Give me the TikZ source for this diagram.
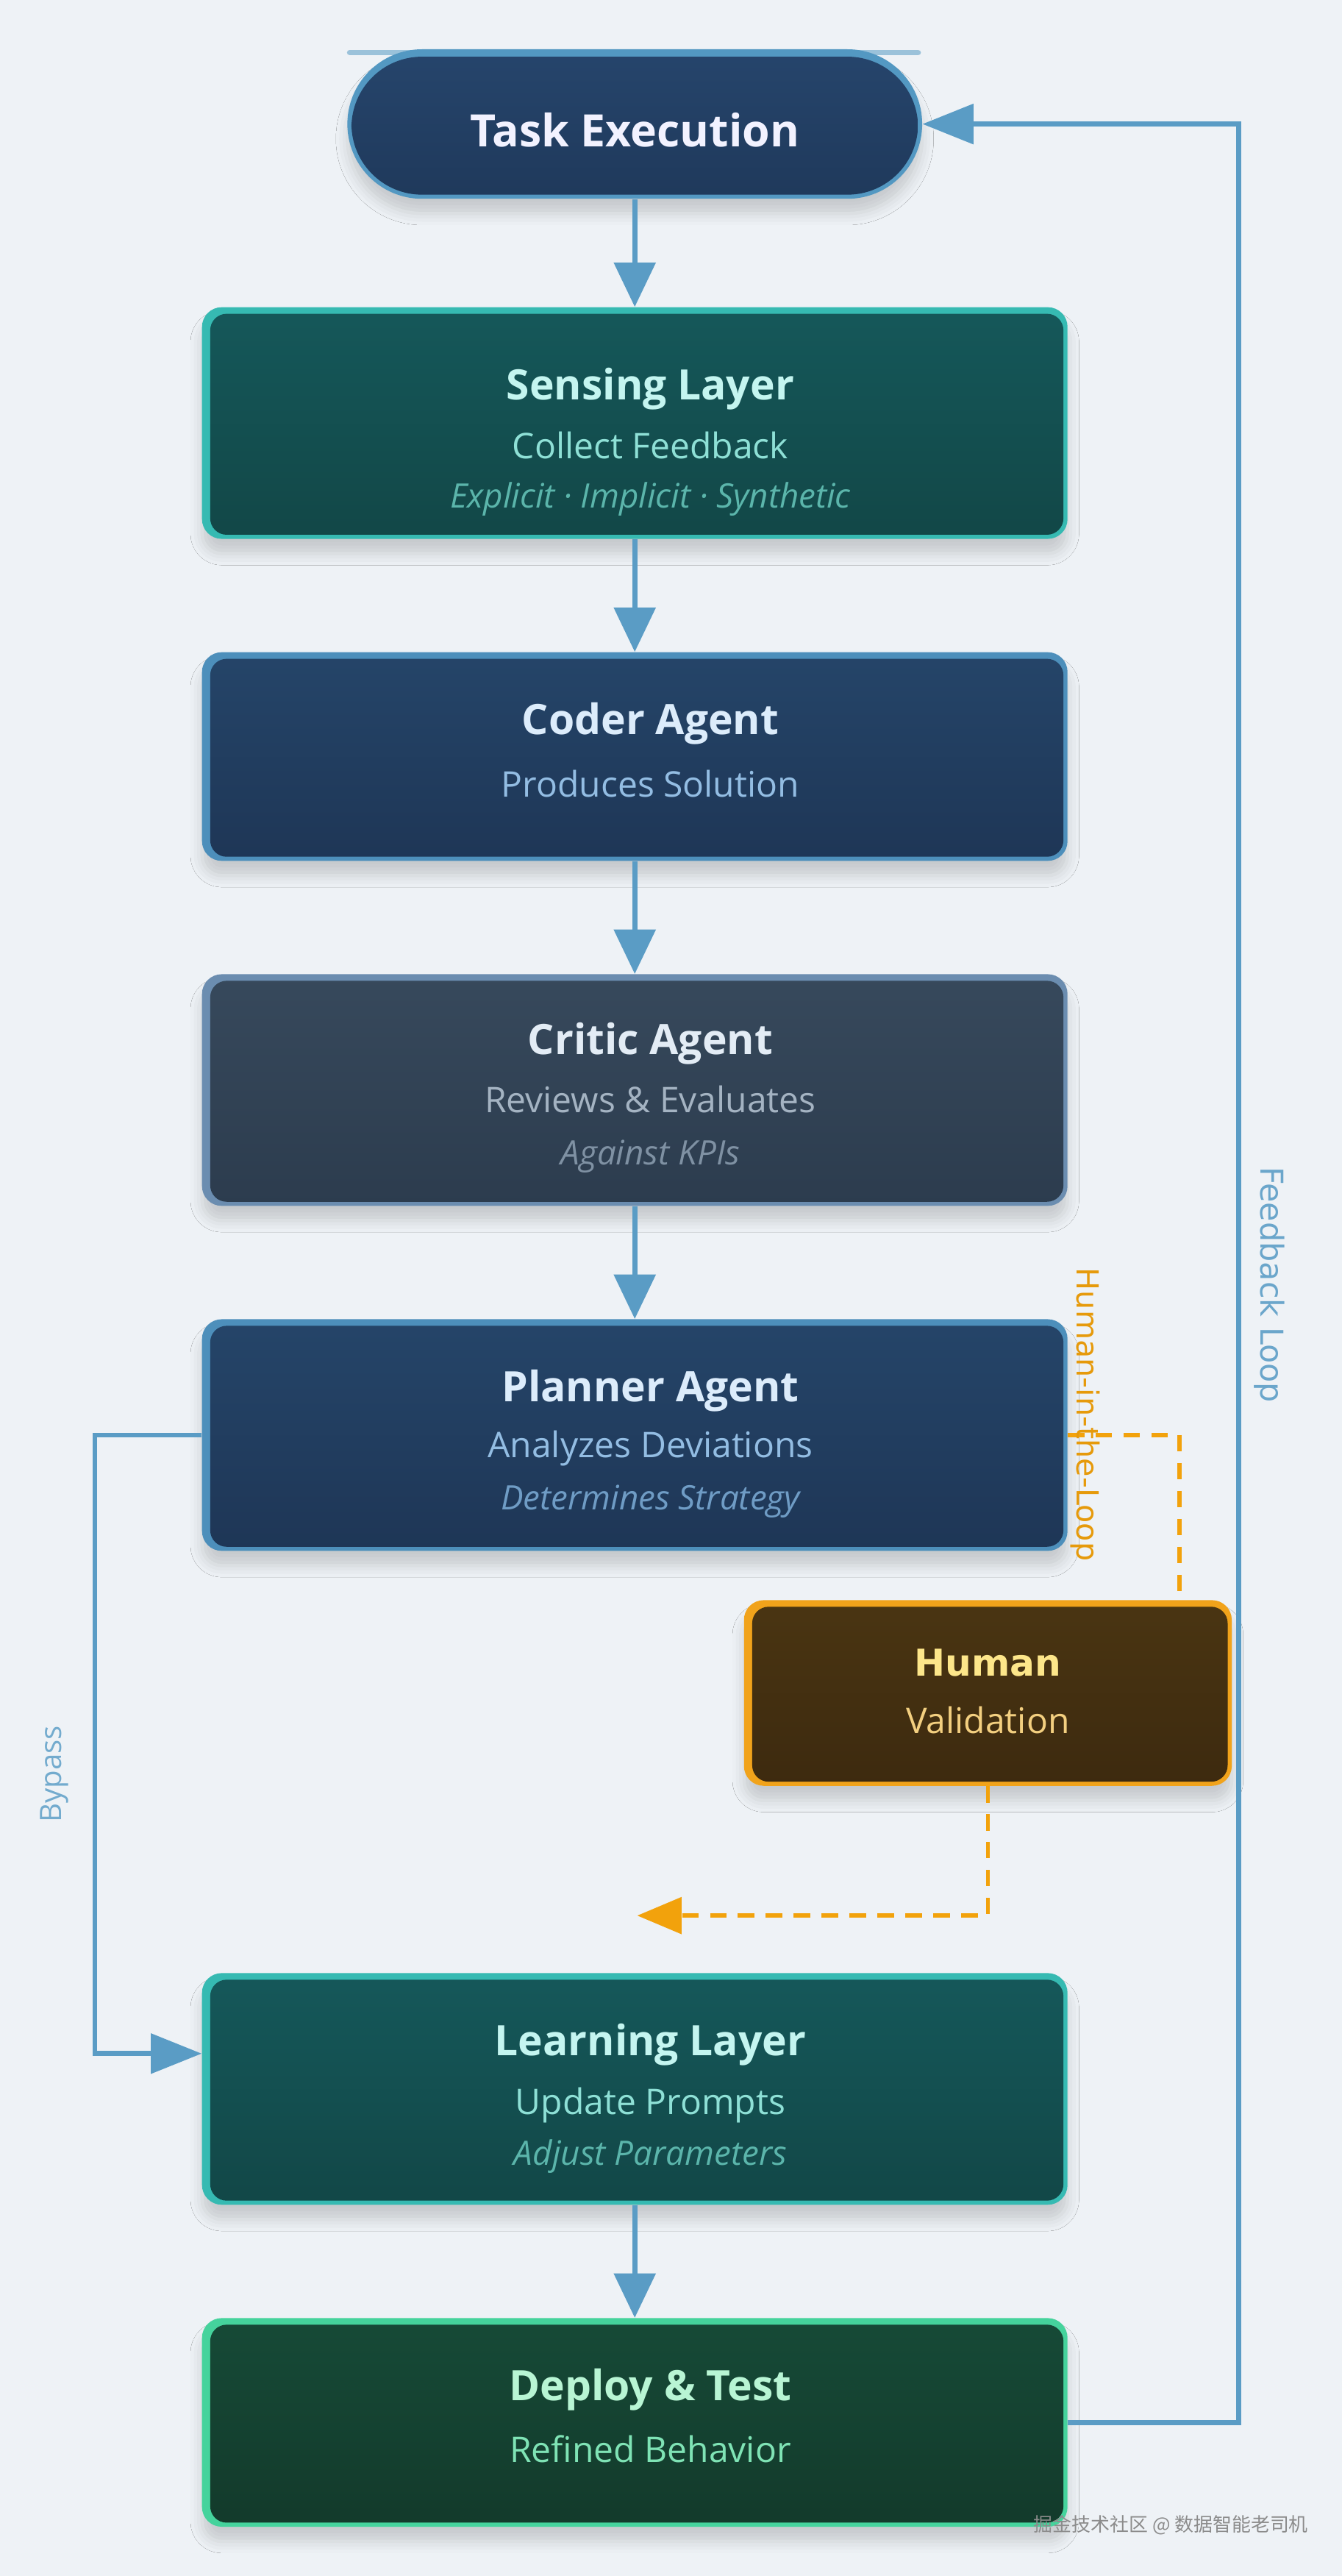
\documentclass[tikz,border=0pt]{standalone}
\usepackage{fontspec}
\setmainfont{Open Sans}
\newfontfamily\dejavu{DejaVu Sans}
\newfontfamily\cjkfont{Noto Sans CJK SC}
\usetikzlibrary{arrows.meta,shadows.blur,calc}
\definecolor{bg}{HTML}{EEF2F6}
\definecolor{flowc}{HTML}{5A9CC5}
\definecolor{orangec}{HTML}{F2A20C}
% pill
\definecolor{pillB}{HTML}{5398C2}\definecolor{pillT}{HTML}{26456C}\definecolor{pillD}{HTML}{1F395B}
% teal
\definecolor{tealB}{HTML}{36BAB2}\definecolor{tealT}{HTML}{15585A}\definecolor{tealD}{HTML}{124747}
\definecolor{tealTi}{HTML}{C4F5F0}\definecolor{tealS}{HTML}{8EE0D6}\definecolor{tealI}{HTML}{5BB5AB}
% navy
\definecolor{navyB}{HTML}{4D8FBB}\definecolor{navyT}{HTML}{254569}\definecolor{navyD}{HTML}{1E3656}
\definecolor{navyTi}{HTML}{DCECFB}\definecolor{navyS}{HTML}{93BDE3}\definecolor{navyI}{HTML}{6F9CC5}
% slate
\definecolor{slateB}{HTML}{6B8DB0}\definecolor{slateT}{HTML}{37495C}\definecolor{slateD}{HTML}{2C3C4E}
\definecolor{slateTi}{HTML}{E3ECF5}\definecolor{slateS}{HTML}{A4B3C2}\definecolor{slateI}{HTML}{7F91A3}
% amber
\definecolor{ambB}{HTML}{F1A31B}\definecolor{ambT}{HTML}{4A3512}\definecolor{ambD}{HTML}{3D2A0F}
\definecolor{ambTi}{HTML}{FDE68A}\definecolor{ambS}{HTML}{F3CF80}
% green
\definecolor{grnB}{HTML}{45D39C}\definecolor{grnT}{HTML}{164A37}\definecolor{grnD}{HTML}{133A2B}
\definecolor{grnTi}{HTML}{B8F5D4}\definecolor{grnS}{HTML}{7FE3B5}
\tikzset{
  softshadow/.style={blur shadow={shadow xshift=0pt, shadow yshift=-9pt, shadow blur radius=7pt, shadow opacity=16}},
  card/.style={rectangle, rounded corners=12pt, minimum width=527pt, inner sep=0pt, softshadow},
  innerfill/.style 2 args={path picture={\shade[top color=#1, bottom color=#2, rounded corners=10pt]
    ([shift={(5pt,2.5pt)}]path picture bounding box.south west) rectangle
    ([shift={(-2.5pt,-4pt)}]path picture bounding box.north east);}},
  ttl/.style={font=\fontsize{25.5}{28}\selectfont\bfseries, inner sep=0pt, anchor=base},
  sub/.style={font=\fontsize{21.5}{25}\selectfont, inner sep=0pt, anchor=base},
  ital/.style={font=\fontsize{20.5}{23}\selectfont\itshape, inner sep=0pt, anchor=base},
  flow/.style={draw=flowc, line width=3pt, -{Triangle[length=27pt,width=25pt]}},
  loopline/.style={draw=flowc, line width=3pt, -{Triangle[length=31pt,width=24pt]}},
  hitl/.style={draw=orangec, line width=2.6pt, dash pattern=on 10pt off 7pt},
  hitlarrow/.style={hitl, -{Triangle[length=27pt,width=22pt]}},
}
\begin{document}
\begin{tikzpicture}[x=1pt,y=-1pt]
\fill[bg] (0,0) rectangle (817,1568);
\useasboundingbox (0,0) rectangle (817,1568);

% Task Execution pill
\draw[draw=pillB!70!white, line width=3.5pt, line cap=round, opacity=0.8] (213,32) -- (559,32);
\node[rectangle, rounded corners=45.5pt, minimum width=350pt, minimum height=91pt, inner sep=0pt,
  fill=pillB, softshadow,
  path picture={\shade[top color=pillT, bottom color=pillD, rounded corners=43pt]
    ([shift={(2.5pt,2.5pt)}]path picture bounding box.south west) rectangle
    ([shift={(-2.5pt,-4.5pt)}]path picture bounding box.north east);}]
  (task) at (386.5,75.5) {};
\node[font=\fontsize{27.2}{30}\selectfont\bfseries, text=white!95!blue, inner sep=0pt, anchor=base] (task-t) at (386.5,89.5) {Task Execution};

% Sensing
\node[card, minimum height=141pt, fill=tealB, innerfill={tealT}{tealD}] (sense) at (386.5,257.5) {};
\node[ttl, text=tealTi] (sense-t) at (396,243.5) {Sensing Layer};
\node[sub, text=tealS] (sense-s) at (396,279) {Collect Feedback};
\node[ital, text=tealI] (sense-i) at (396,309) {Explicit · Implicit · Synthetic};

% Coder
\node[card, minimum height=127pt, fill=navyB, innerfill={navyT}{navyD}] (coder) at (386.5,460.5) {};
\node[ttl, text=navyTi] (coder-t) at (396,447) {Coder Agent};
\node[sub, text=navyS] (coder-s) at (396,485) {Produces Solution};

% Critic
\node[card, minimum height=141pt, fill=slateB, innerfill={slateT}{slateD}] (critic) at (386.5,663.5) {};
\node[ttl, text=slateTi] (critic-t) at (396,642) {Critic Agent};
\node[sub, text=slateS] (critic-s) at (396,677) {Reviews \& Evaluates};
\node[ital, text=slateI] (critic-i) at (396,709) {Against KPIs};

% Planner
\node[card, minimum height=141pt, fill=navyB, innerfill={navyT}{navyD}] (planner) at (386.5,873.5) {};
\node[ttl, text=navyTi] (planner-t) at (396,853) {Planner Agent};
\node[sub, text=navyS] (planner-s) at (396,887) {Analyzes Deviations};
\node[ital, text=navyI] (planner-i) at (396,919) {Determines Strategy};

% Human
\node[card, minimum width=297pt, minimum height=113pt, fill=ambB, innerfill={ambT}{ambD}] (human) at (601.5,1030.5) {};
\node[font=\dejavu\fontsize{22.5}{26}\selectfont\bfseries, text=ambTi, inner sep=0pt, anchor=base] (human-t) at (601.5,1020) {Human};
\node[sub, text=ambS] (human-s) at (601.5,1055) {Validation};

% Learning
\node[card, minimum height=141pt, fill=tealB, innerfill={tealT}{tealD}] (learn) at (386.5,1271.5) {};
\node[ttl, text=tealTi] (learn-t) at (396,1251) {Learning Layer};
\node[sub, text=tealS] (learn-s) at (396,1287) {Update Prompts};
\node[ital, text=tealI] (learn-i) at (396,1318) {Adjust Parameters};

% Deploy
\node[card, minimum height=127pt, fill=grnB, innerfill={grnT}{grnD}] (deploy) at (386.5,1474.5) {};
\node[ttl, text=grnTi] (deploy-t) at (396,1461) {Deploy \& Test};
\node[sub, text=grnS] (deploy-s) at (396,1499) {Refined Behavior};

% main flow
\draw[flow] (task.south) -- (sense.north);
\draw[flow] (sense.south) -- (coder.north);
\draw[flow] (coder.south) -- (critic.north);
\draw[flow] (critic.south) -- (planner.north);
\draw[flow] (learn.south) -- (deploy.north);

% bypass
\draw[loopline] (planner.west) -- ++(-65,0) |- ([yshift=21.5pt]learn.west);
\node[rotate=90, font=\fontsize{18}{20}\selectfont, text=flowc!85!white, inner sep=0pt] (bypass-l) at (33,1080) {Bypass};

% feedback loop
\draw[loopline] (deploy.east) -- ++(104,0) |- (task.east);
\node[rotate=-90, font=\dejavu\fontsize{19.2}{21}\selectfont, text=flowc!90!white, inner sep=0pt] (fb-l) at (773,782) {Feedback Loop};

% human in the loop
\coordinate (hend) at (388,1166);
\draw[hitl] (planner.east) -| ([xshift=-32pt]human.north east);
\draw[hitlarrow] (human.south) |- (hend);
\node[rotate=-90, font=\dejavu\fontsize{18.5}{20}\selectfont, text=orangec!95!black, inner sep=0pt] (hitl-l) at (661,861) {Human-in-the-Loop};

% watermark
\node[font=\cjkfont\fontsize{11.6}{14}\selectfont, text=black!45, inner sep=0pt] (wm) at (713,1537) {掘金技术社区 @ 数据智能老司机};
\end{tikzpicture}
\end{document}
